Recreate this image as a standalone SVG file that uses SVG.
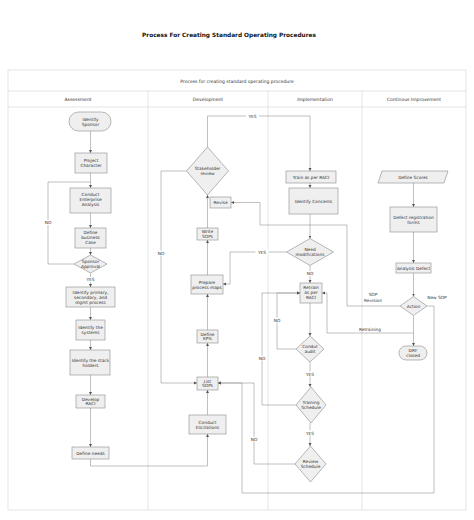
<svg xmlns="http://www.w3.org/2000/svg" width="474" height="520" viewBox="0 0 474 520">
<style>
.frame{fill:none;stroke:#d9d9d9;stroke-width:0.7}
.n{fill:#efefef;stroke:#8a8a8a;stroke-width:0.6}
.c{fill:none;stroke:#8c8c8c;stroke-width:0.55}
.t{font-family:"DejaVu Sans",Verdana,sans-serif;font-size:4.3px;fill:#333;text-anchor:middle}
.h{font-family:"DejaVu Sans",Verdana,sans-serif;font-size:4.5px;fill:#333;text-anchor:middle}
.l{font-family:"DejaVu Sans",Verdana,sans-serif;font-size:4.3px;fill:#333;text-anchor:middle}
.title{font-family:"DejaVu Sans",Verdana,sans-serif;font-size:5.8px;font-weight:bold;fill:#111;text-anchor:middle}
.lb{fill:#fff}
</style>
<defs>
<marker id="a" markerWidth="4" markerHeight="4" refX="3" refY="2" orient="auto" markerUnits="userSpaceOnUse">
<path d="M0,0.5 L3,2 L0,3.5 Z" fill="#555"/>
</marker>
</defs>
<rect width="474" height="520" fill="#fff"/>
<text class="title" x="229" y="37">Process For Creating Standard Operating Procedures</text>
<g id="pool">
<rect class="frame" x="8" y="70" width="458" height="440"/>
<line class="frame" x1="8" y1="91" x2="466" y2="91"/>
<line class="frame" x1="8" y1="107" x2="466" y2="107"/>
<line class="frame" x1="148" y1="91" x2="148" y2="510"/>
<line class="frame" x1="268" y1="91" x2="268" y2="510"/>
<line class="frame" x1="362" y1="91" x2="362" y2="510"/>
<text class="h" x="237" y="82.5">Process for creating standard operating procedure</text>
<text class="h" x="78" y="101">Assessment</text>
<text class="h" x="208" y="101">Development</text>
<text class="h" x="315" y="101">Implementation</text>
<text class="h" x="414" y="101">Continous Improvement</text>
</g>
<g id="connectors">
<path class="c" d="M90.5,131 V153" marker-end="url(#a)"/>
<path class="c" d="M90.5,173 V188" marker-end="url(#a)"/>
<path class="c" d="M90.5,213 V228" marker-end="url(#a)"/>
<path class="c" d="M90.5,248 V255" marker-end="url(#a)"/>
<path class="c" d="M74,264 H48 V182 H90.5"/>
<path class="c" d="M90.5,273 V287" marker-end="url(#a)"/>
<path class="c" d="M90.5,307 V320" marker-end="url(#a)"/>
<path class="c" d="M90.5,340 V350" marker-end="url(#a)"/>
<path class="c" d="M90.5,375 V395" marker-end="url(#a)"/>
<path class="c" d="M90.5,408 V447" marker-end="url(#a)"/>
<path class="c" d="M90.5,459 V466 H207.5 V434" marker-end="url(#a)"/>
<path class="c" d="M207.5,415 V390" marker-end="url(#a)"/>
<path class="c" d="M207.5,377 V343" marker-end="url(#a)"/>
<path class="c" d="M207.5,330 V294" marker-end="url(#a)"/>
<path class="c" d="M207.5,275 V240" marker-end="url(#a)"/>
<path class="c" d="M207.5,228 V195" marker-end="url(#a)"/>
<path class="c" d="M207.5,147 V116 H310 V171" marker-end="url(#a)"/>
<path class="c" d="M186.5,171 H161 V383 H197" marker-end="url(#a)"/>
<path class="c" d="M286.5,252 H230 V284 H223" marker-end="url(#a)"/>
<path class="c" d="M400,306 H347 V225 H260 V202.5 H231" marker-end="url(#a)"/>
<path class="c" d="M427,306 H434 V493 H242 V383 H218" marker-end="url(#a)"/>
<path class="c" d="M295,464 H254 V383 H218" marker-end="url(#a)"/>
<path class="c" d="M310,183 V188" marker-end="url(#a)"/>
<path class="c" d="M310,214 V238.5" marker-end="url(#a)"/>
<path class="c" d="M310,265.5 V283" marker-end="url(#a)"/>
<path class="c" d="M310,303 V336" marker-end="url(#a)"/>
<path class="c" d="M296,349 H277 V293 H300" marker-end="url(#a)"/>
<path class="c" d="M296,405 H262 V293 H300" marker-end="url(#a)"/>
<path class="c" d="M310,362 V387" marker-end="url(#a)"/>
<path class="c" d="M310,423 V446" marker-end="url(#a)"/>
<path class="c" d="M413.5,183 V207" marker-end="url(#a)"/>
<path class="c" d="M413.5,232 V263" marker-end="url(#a)"/>
<path class="c" d="M413.5,273 V296.5" marker-end="url(#a)"/>
<path class="c" d="M413.5,315.5 V346" marker-end="url(#a)"/>
<path class="c" d="M413.5,333 H327 V293 H322" marker-end="url(#a)"/>
<rect class="lb" x="43" y="220" width="10" height="5"/>
<text class="l" x="48" y="224">NO</text>
<rect class="lb" x="84" y="277" width="13" height="5"/>
<text class="l" x="90.5" y="281">YES</text>
<rect class="lb" x="246" y="113.5" width="13" height="5"/>
<text class="l" x="252.5" y="117.5">YES</text>
<rect class="lb" x="156" y="250.5" width="10" height="5"/>
<text class="l" x="161" y="254.5">NO</text>
<rect class="lb" x="255.5" y="249.5" width="13" height="5"/>
<text class="l" x="262" y="253.5">YES</text>
<rect class="lb" x="305" y="271" width="10" height="5"/>
<text class="l" x="310" y="275">NO</text>
<rect class="lb" x="272" y="317.5" width="10" height="5"/>
<text class="l" x="277" y="321.5">NO</text>
<rect class="lb" x="257" y="355.5" width="10" height="5"/>
<text class="l" x="262" y="359.5">NO</text>
<rect class="lb" x="303.5" y="371.5" width="13" height="5"/>
<text class="l" x="310" y="375.5">YES</text>
<rect class="lb" x="303.5" y="430.5" width="13" height="5"/>
<text class="l" x="310" y="434.5">YES</text>
<rect class="lb" x="249" y="436.5" width="10" height="5"/>
<text class="l" x="254" y="440.5">NO</text>
<text class="l" x="370" y="330.5">Retraining</text>
<text class="l" x="373" y="296">SOP</text>
<text class="l" x="373" y="301.5">Revision</text>
<text class="l" x="437" y="298.5">New SOP</text>
</g>
<g id="identify-sponsor"><rect class="n" x="69" y="112" width="42" height="19" rx="9.5"/><text class="t" x="90.5" y="120.5">Identify<tspan x="90.5" dy="5.2">Sponsor</tspan></text></g>
<g id="project-character"><rect class="n" x="75" y="153" width="32" height="20"/><text class="t" x="91" y="162">Project<tspan x="91" dy="5.2">Character</tspan></text></g>
<g id="conduct-enterprise"><rect class="n" x="70" y="188" width="41" height="25"/><text class="t" x="90.5" y="195.5">Conduct<tspan x="90.5" dy="5.2">Enterprise</tspan><tspan x="90.5" dy="5.2">Analysis</tspan></text></g>
<g id="define-business"><rect class="n" x="75" y="228" width="31" height="20"/><text class="t" x="90.5" y="234">Define<tspan x="90.5" dy="5.2">business</tspan><tspan x="90.5" dy="5.2">Case</tspan></text></g>
<g id="sponsor-approval"><path class="n" d="M90.5,255 L107,264 L90.5,273 L74,264 Z"/><text class="t" x="90.5" y="263">Sponsor<tspan x="90.5" dy="4.6">Approval</tspan></text></g>
<g id="identify-primary"><rect class="n" x="66" y="287" width="49" height="20"/><text class="t" x="90.5" y="293.5">Identify primary,<tspan x="90.5" dy="5">secondary, and</tspan><tspan x="90.5" dy="5">mgmt process</tspan></text></g>
<g id="identify-systems"><rect class="n" x="76" y="320" width="29" height="20"/><text class="t" x="90.5" y="329">Identify the<tspan x="90.5" dy="5.2">systems</tspan></text></g>
<g id="identify-stakeholders"><rect class="n" x="70" y="350" width="40" height="25"/><text class="t" x="90.5" y="361.5">Identify the stack<tspan x="90.5" dy="5.2">holders</tspan></text></g>
<g id="develop-raci"><rect class="n" x="76" y="395" width="29" height="13"/><text class="t" x="90.5" y="400.5">Develop<tspan x="90.5" dy="4.8">RACI</tspan></text></g>
<g id="define-needs"><rect class="n" x="72" y="447" width="37" height="12"/><text class="t" x="90.5" y="454.5">Define needs</text></g>
<g id="stakeholder-review"><path class="n" d="M207.5,147 L228.5,171 L207.5,195 L186.5,171 Z"/><text class="t" x="207.5" y="170">Stakeholder<tspan x="207.5" dy="5.2">review</tspan></text></g>
<g id="revise"><rect class="n" x="210" y="197" width="21" height="11"/><text class="t" x="220.5" y="204">Revise</text></g>
<g id="write-sops"><rect class="n" x="197" y="228" width="21" height="12"/><text class="t" x="207.5" y="233">Write<tspan x="207.5" dy="4.8">SOPs</tspan></text></g>
<g id="prepare-maps"><rect class="n" x="191" y="275" width="32" height="19"/><text class="t" x="207" y="283.5">Prepare<tspan x="207" dy="5.2">process maps</tspan></text></g>
<g id="define-kpis"><rect class="n" x="197" y="330" width="21" height="13"/><text class="t" x="207.5" y="335.5">Define<tspan x="207.5" dy="4.8">KPIs</tspan></text></g>
<g id="list-sops"><rect class="n" x="197" y="377" width="21" height="13"/><text class="t" x="207.5" y="382.5">List<tspan x="207.5" dy="4.8">SOPs</tspan></text></g>
<g id="conduct-elicitations"><rect class="n" x="189" y="415" width="37" height="19"/><text class="t" x="207.5" y="423.5">Conduct<tspan x="207.5" dy="5.2">Elicitations</tspan></text></g>
<g id="train-raci"><rect class="n" x="286" y="171" width="50" height="12"/><text class="t" x="311" y="178.5">Train as per RACI</text></g>
<g id="identify-concerns"><rect class="n" x="289" y="188" width="49" height="26"/><text class="t" x="313.5" y="202.5">Identify Concerns</text></g>
<g id="need-modifications"><path class="n" d="M310,238.5 L333.5,252 L310,265.5 L286.5,252 Z"/><text class="t" x="310" y="251">Need<tspan x="310" dy="5">modifications</tspan></text></g>
<g id="retrain-raci"><rect class="n" x="300" y="283" width="22" height="20"/><text class="t" x="311" y="289">Retrain<tspan x="311" dy="5.2">as per</tspan><tspan x="311" dy="5.2">RACI</tspan></text></g>
<g id="conduct-audit"><path class="n" d="M310,336 L324,349 L310,362 L296,349 Z"/><text class="t" x="310" y="348">Condut<tspan x="310" dy="5">audit</tspan></text></g>
<g id="training-schedule"><path class="n" d="M311,387 L326,405 L311,423 L296,405 Z"/><text class="t" x="311" y="404">Training<tspan x="311" dy="5.2">Schedule</tspan></text></g>
<g id="review-schedule"><path class="n" d="M310.5,446 L326,464 L310.5,482 L295,464 Z"/><text class="t" x="310.5" y="463">Review<tspan x="310.5" dy="5.2">Schedule</tspan></text></g>
<g id="define-scores"><path class="n" d="M382,171 H448 L444,183 H378 Z"/><text class="t" x="413" y="178.5">Define Scores</text></g>
<g id="defect-forms"><rect class="n" x="390" y="207" width="47" height="25"/><text class="t" x="413.5" y="218.5">Defect registration<tspan x="413.5" dy="5.2">forms</tspan></text></g>
<g id="analysis-defect"><rect class="n" x="396" y="263" width="35" height="10"/><text class="t" x="413.5" y="269.5">Analysis Defect</text></g>
<g id="action"><path class="n" d="M413.5,296.5 L427,306 L413.5,315.5 L400,306 Z"/><text class="t" x="413.5" y="307.5">Action</text></g>
<g id="drf-closed"><rect class="n" x="399" y="346" width="28" height="14" rx="7"/><text class="t" x="413" y="351.8">DRF<tspan x="413" dy="5">closed</tspan></text></g>
</svg>
